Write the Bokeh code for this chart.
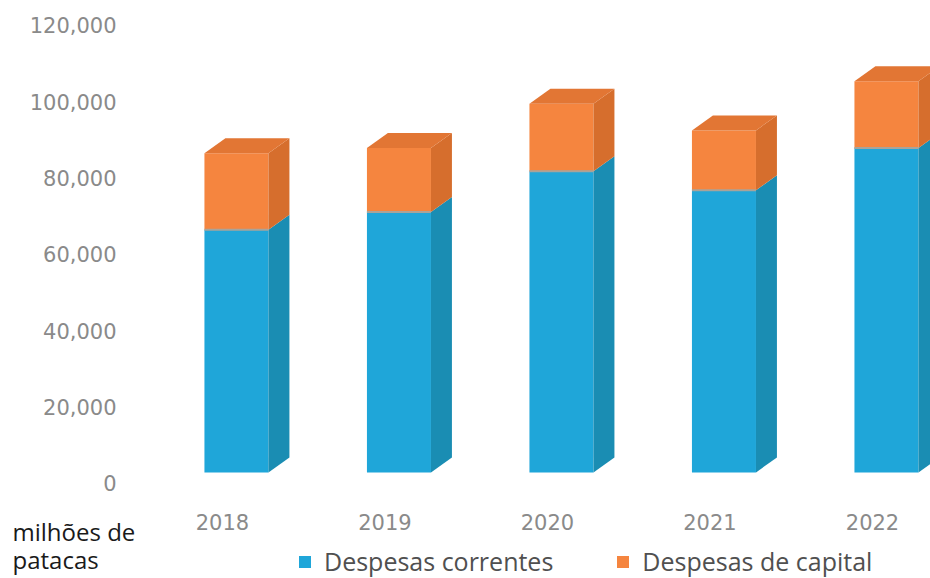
from bokeh.plotting import figure
from bokeh.models import Range1d, Legend, LegendItem
from bokeh.core.properties import value
from bokeh.embed import file_html
from bokeh.resources import INLINE

# ---- data (milhões de patacas) ----
years = ["2018", "2019", "2020", "2021", "2022"]
despesas_correntes = [66500, 71100, 81800, 76800, 87900]
despesas_capital = [20000, 16800, 17700, 15700, 17500]
y_ticks = [0, 20000, 40000, 60000, 80000, 100000, 120000]
unit_lines = ["milhões de", "patacas"]
series_names = ["Despesas correntes", "Despesas de capital"]

# ---- style / layout constants ----
FONT = "Open Sans"
NUM_FONT = "DejaVu Sans"
GRAY = "#8a8a8a"
BLUE_FRONT, BLUE_SIDE = "#1fa6d9", "#1a8db3"
ORANGE_FRONT, ORANGE_SIDE, ORANGE_TOP = "#f5853f", "#d66e2d", "#e27634"
FLOOR = 2900                  # visual floor offset of the 3-D base
LEFT, RIGHT = -0.111, 0.283   # front face extent relative to category
DX, DY = 0.129, 3930          # depth offset of the 3-D effect
TICK_X = -0.652               # right edge of the value labels
YEAR_Y = -10087               # row of the category labels
UNIT_X = -1.292
UNIT_Y = [-12576, -20000]

p = figure(width=930, height=578, output_backend="svg", toolbar_location=None,
           x_range=Range1d(-1.366, 4.357), y_range=Range1d(-24889, 126539),
           x_axis_location=None, y_axis_location=None,
           min_border_left=0, min_border_right=0, min_border_top=0,
           min_border_bottom=0)
p.outline_line_color = None
p.grid.visible = False

xs_pos = list(range(len(years)))
bottoms_b = [FLOOR] * len(years)
tops_b = list(despesas_correntes)
tops_o = [tb + c for tb, c in zip(tops_b, despesas_capital)]
lefts = [x + LEFT for x in xs_pos]
rights = [x + RIGHT for x in xs_pos]

# front faces
r_blue = p.quad(left=lefts, right=rights, bottom=bottoms_b, top=tops_b,
                fill_color=BLUE_FRONT, line_color=None)
r_orange = p.quad(left=lefts, right=rights, bottom=tops_b, top=tops_o,
                  fill_color=ORANGE_FRONT, line_color=None)

def side(b, t, r):
    return ([r, r + DX, r + DX, r], [b, b + DY, t + DY, t])

blue_sides = [side(b, t, r) for b, t, r in zip(bottoms_b, tops_b, rights)]
orange_sides = [side(b, t, r) for b, t, r in zip(tops_b, tops_o, rights)]
p.patches(xs=[s[0] for s in blue_sides], ys=[s[1] for s in blue_sides],
          fill_color=BLUE_SIDE, line_color=None)
p.patches(xs=[s[0] for s in orange_sides], ys=[s[1] for s in orange_sides],
          fill_color=ORANGE_SIDE, line_color=None)
tops_xs = [[l, l + DX, r + DX, r] for l, r in zip(lefts, rights)]
tops_ys = [[t, t + DY, t + DY, t] for t in tops_o]
p.patches(xs=tops_xs, ys=tops_ys, fill_color=ORANGE_TOP, line_color=None)
p.segment(x0=lefts, x1=rights, y0=tops_b, y1=tops_b, line_color="#a9a39a",
          line_width=2)

# value axis labels
p.text(x=[TICK_X] * len(y_ticks), y=y_ticks, text=[f"{v:,}" for v in y_ticks],
       text_align="right", text_baseline="middle", text_font=value(NUM_FONT),
       text_font_size="21px", text_color=GRAY)
# category axis labels
p.text(x=xs_pos, y=[YEAR_Y] * len(years), text=years, text_align="center",
       text_baseline="middle", text_font=value(NUM_FONT),
       text_font_size="21px", text_color=GRAY)
# unit
p.text(x=[UNIT_X] * len(unit_lines), y=UNIT_Y, text=unit_lines,
       text_align="left", text_baseline="alphabetic", text_font=value(FONT),
       text_font_size="24px", text_color="#1a1a1a")

legend = Legend(items=[LegendItem(label=series_names[0], renderers=[r_blue]),
                       LegendItem(label=series_names[1], renderers=[r_orange])],
                orientation="horizontal", location=(297, 0),
                glyph_width=15, glyph_height=15, label_standoff=12, spacing=62,
                padding=0, margin=0, border_line_color=None,
                background_fill_alpha=0,
                label_text_font=FONT, label_text_font_size="25px",
                label_text_color="#505050")
p.add_layout(legend, "center")

open("out.html", "w").write(file_html(p, INLINE))
